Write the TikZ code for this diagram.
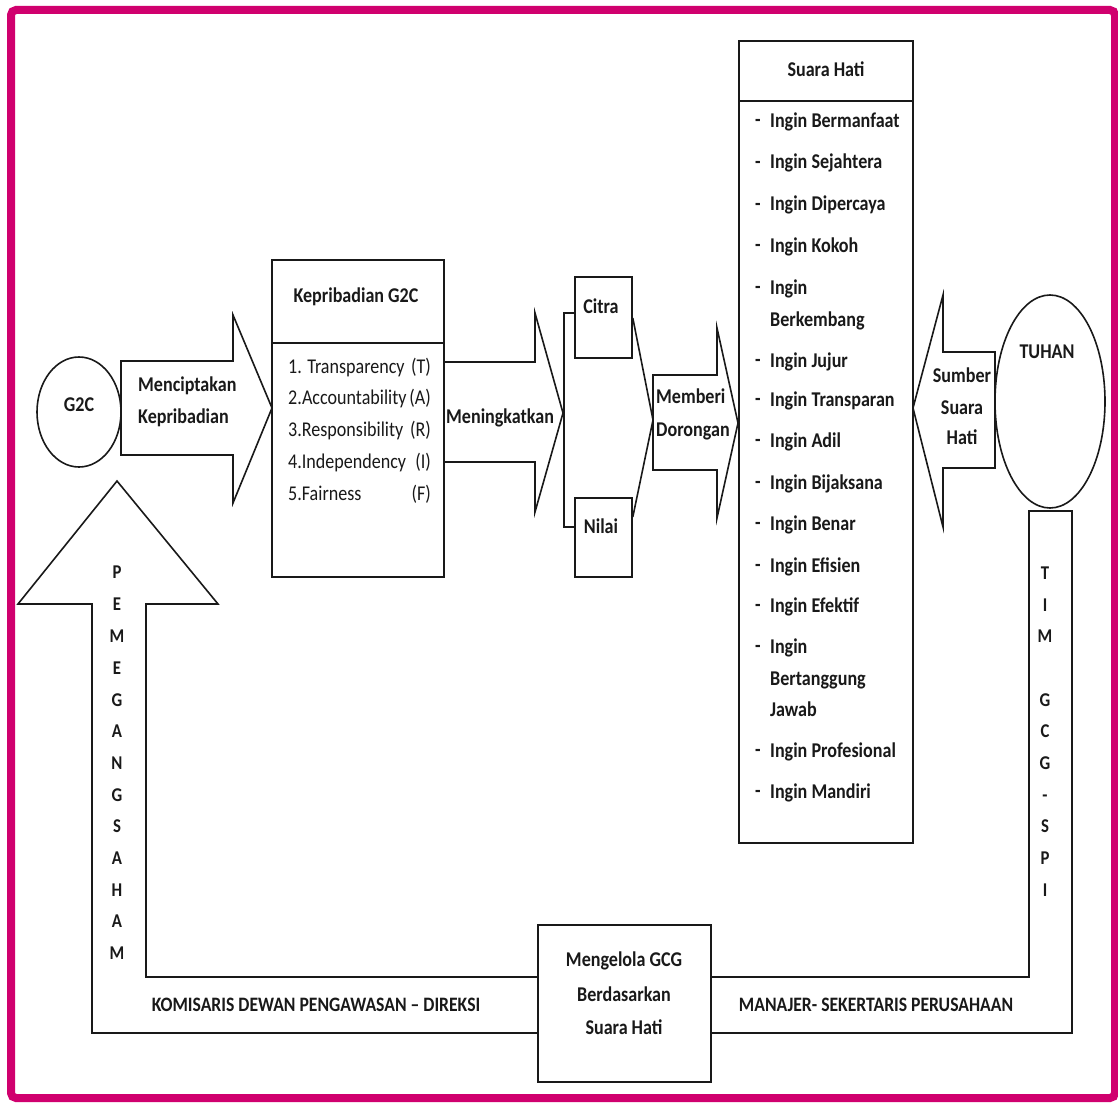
\documentclass[tikz,border=0pt]{standalone}
\usepackage{fontspec}
\setmainfont[FakeStretch=0.86]{Carlito}
\usetikzlibrary{shapes.geometric}
\definecolor{bord}{RGB}{208,0,110}
\definecolor{ink}{RGB}{25,25,25}
\begin{document}
\begin{tikzpicture}[x=1pt,y=-1pt,
  sl/.style={draw=ink, line width=1.6pt, line join=miter},
  bt/.style={font=\fontsize{21}{25}\selectfont\bfseries, inner sep=0pt, text=ink},
  rt/.style={font=\fontsize{21}{25}\selectfont, inner sep=0pt, text=ink},
  vt/.style={font=\fontsize{19.5}{23}\selectfont\bfseries, inner sep=0pt, text=ink, anchor=base},
  bot/.style={font=\fontsize{20.5}{24}\selectfont\bfseries, inner sep=0pt, text=ink, anchor=base},
  boxn/.style={draw=ink, line width=1.6pt, inner sep=0pt, rectangle},
  elln/.style={draw=ink, line width=1.6pt, inner sep=0pt, ellipse}
]
\useasboundingbox (0,0) rectangle (1118,1102);
\fill[white] (0,0) rectangle (1118,1102);
% border
\draw[bord, line width=8pt, rounded corners=5pt] (11,10) rectangle (1115,1098);

% G2C circle
\node[elln, minimum width=84, minimum height=110] (g2c) at (79,412) {};
\node[bt, anchor=base] (g2ct) at (79,411) {G2C};

% arrow Menciptakan
\draw[sl] (121,361) -- (233,361) -- (233,315) -- (272,408) -- (233,503) -- (233,455) -- (121,455) -- cycle;
\node[bt, anchor=base west] (menc) at (138,391) {Menciptakan};
\node[bt, anchor=base west] (kepr) at (138,423) {Kepribadian};

% Kepribadian box
\node[boxn, minimum width=172, minimum height=317] (kep) at (358,418.5) {};
\draw[sl] (272,343) -- (444,343);
\node[bt, anchor=base] (keph) at (356,302) {Kepribadian G2C};
\node[rt, anchor=base west] (k1) at (288,373) {1. Transparency};
\node[rt, anchor=base west] (k2) at (288,404) {2.Accountability};
\node[rt, anchor=base west] (k3) at (288,436) {3.Responsibility};
\node[rt, anchor=base west] (k4) at (288,468) {4.Independency};
\node[rt, anchor=base west] (k5) at (288,500) {5.Fairness};
\node[rt, anchor=base east] (k1r) at (431,373) {(T)};
\node[rt, anchor=base east] (k2r) at (431,404) {(A)};
\node[rt, anchor=base east] (k3r) at (431,436) {(R)};
\node[rt, anchor=base east] (k4r) at (431,468) {(I)};
\node[rt, anchor=base east] (k5r) at (431,500) {(F)};

% arrow Meningkatkan
\draw[sl] (444,362) -- (535,362) -- (535,313) -- (563,413) -- (535,512) -- (535,462) -- (444,462);
\node[bt, anchor=base west] (mening) at (446,423) {Meningkatkan};

% Citra / Nilai
\node[boxn, minimum width=57, minimum height=81] (citra) at (603.5,317.5) {};
\node[bt, anchor=base] (citrat) at (601,313) {Citra};
\node[boxn, minimum width=57, minimum height=79] (nilai) at (603.5,537.5) {};
\node[bt, anchor=base] (nilait) at (601,533) {Nilai};
\draw[sl] ([yshift=4.5pt]citra.west) -- ++(-10,0) |- ([yshift=10.5pt]nilai.west);
\coordinate (conv) at (653,420);
\draw[sl] ([yshift=-0.5pt]citra.east) -- (conv) -- ([yshift=20.5pt]nilai.east);

% arrow Memberi Dorongan
\draw[sl] (653,375) -- (717,375) -- (717,328) -- (738,423) -- (717,518) -- (717,470) -- (653,470) -- cycle;
\node[bt, anchor=base west] (memb) at (656,403) {Memberi};
\node[bt, anchor=base west] (doro) at (656,436) {Dorongan};

% Suara Hati box
\node[boxn, minimum width=174, minimum height=802] (sh) at (826,442) {};
\draw[sl] (739,101) -- (913,101);
\node[bt, anchor=base] (shh) at (826,77) {Suara Hati};
\foreach \t/\y/\d [count=\i] in {
  Ingin Bermanfaat/122/1, Ingin Sejahtera/163/1, Ingin Dipercaya/205/1,
  Ingin Kokoh/246/1, Ingin/288/1, Berkembang/320/0, Ingin Jujur/361/1,
  Ingin Transparan/400/1, Ingin Adil/441/1, Ingin Bijaksana/483/1,
  Ingin Benar/524/1, Ingin Efisien/566/1, Ingin Efektif/606/1,
  Ingin/647/1, Bertanggung/679/0, Jawab/710/0, Ingin Profesional/751/1,
  Ingin Mandiri/792/1}{
  \node[bt, anchor=base west] (it\i) at (770,\y+6) {\t};
  \ifnum\d=1 \node[bt, anchor=base west] (dash\i) at (755,\y+5) {-};\fi
}

% Sumber Suara Hati arrow
\draw[sl] (995,352) -- (943,352) -- (943,295) -- (913,408) -- (943,527) -- (943,468) -- (995,468) -- cycle;
\node[bt, anchor=base] (sum1) at (962,382) {Sumber};
\node[bt, anchor=base] (sum2) at (962,414) {Suara};
\node[bt, anchor=base] (sum3) at (962,444) {Hati};

% TUHAN
\node[elln, minimum width=110, minimum height=213] (tuhan) at (1050,401.5) {};
\node[bt, anchor=base] (tuhant) at (1047,358) {TUHAN};

% Mengelola box
\node[boxn, minimum width=173, minimum height=157] (mg) at (624.5,1003.5) {};
\node[bt, anchor=base] (mg1) at (624,966) {Mengelola GCG};
\node[bt, anchor=base] (mg2) at (624,1001) {Berdasarkan};
\node[bt, anchor=base] (mg3) at (624,1034) {Suara Hati};

% left up arrow (Pemegang Saham)
\draw[sl] (538,977) -- (146,977) -- (146,604) -- (218,604) -- (117,481) -- (18,604) -- (92,604) -- (92,1033) -- (538,1033);
\foreach \l/\y [count=\i] in {P/572,E/604,M/636,E/668,G/700,A/731,N/763,G/795,S/826,A/858,H/890,A/921,M/953}{
  \node[vt] (ps\i) at (117,\y+6) {\l};
}
\node[bot] (kom) at (316,1011) {KOMISARIS DEWAN PENGAWASAN -- DIREKSI};

% right U (TIM GCG-SPI)
\draw[sl] (711,977) -- (1029,977) -- (1029,511) -- (1072,511) -- (1072,1033) -- (711,1033);
\foreach \l/\y [count=\i] in {T/573,I/605,M/636,G/700,C/731,G/763,-/795,S/826,P/858,I/890}{
  \node[vt] (tim\i) at (1045,\y+6) {\l};
}
\node[bot] (man) at (876,1011) {MANAJER- SEKERTARIS PERUSAHAAN};
\end{tikzpicture}
\end{document}
